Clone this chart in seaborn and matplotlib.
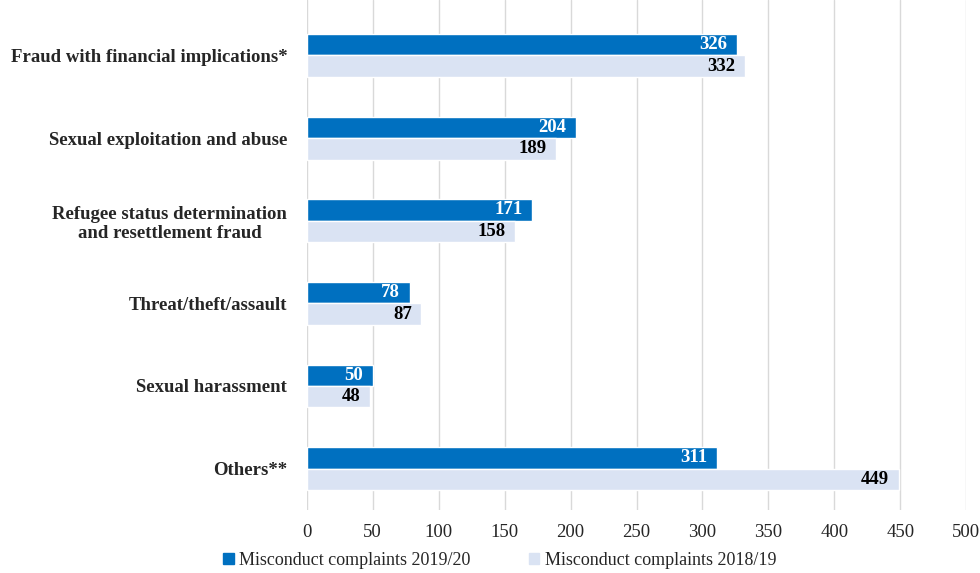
import pandas as pd
import seaborn as sns
import matplotlib.pyplot as plt

# Data
categories = [
    "Fraud with financial implications*",
    "Sexual exploitation and abuse",
    "Refugee status determination\nand resettlement fraud",
    "Threat/theft/assault",
    "Sexual harassment",
    "Others**",
]
complaints_2019_20 = [326, 204, 171, 78, 50, 311]
complaints_2018_19 = [332, 189, 158, 87, 48, 449]
series_names = ["Misconduct complaints 2019/20", "Misconduct complaints 2018/19"]
x_ticks = [0, 50, 100, 150, 200, 250, 300, 350, 400, 450, 500]

colors = ["#0070C0", "#DAE3F3"]
label_colors = ["white", "black"]

df = pd.DataFrame({
    "Category": categories * 2,
    "Count": complaints_2019_20 + complaints_2018_19,
    "Series": [series_names[0]] * len(categories) + [series_names[1]] * len(categories),
})

sns.set_style("white")
plt.rcParams["font.family"] = ["Liberation Serif", "DejaVu Serif"]

fig, ax = plt.subplots(figsize=(9.8, 5.73), dpi=100)
fig.subplots_adjust(left=0.313, right=0.986, top=1.0, bottom=0.11)

sns.barplot(data=df, y="Category", x="Count", hue="Series", orient="h",
            palette=colors, saturation=1, width=0.52, gap=0, ax=ax, legend=False)

for container, tc in zip(ax.containers, label_colors):
    texts = ax.bar_label(container, padding=-7, color=tc, fontsize=13.5,
                         fontweight="bold",
                         labels=[f"{int(v)}" for v in container.datavalues])
    for t in texts:
        t.set_ha("right")

ax.set_xlim(0, 500)
ax.set_ylim(5.5, -0.67)
ax.set_xticks(x_ticks)
ax.grid(axis="x", color="#D9D9D9", linewidth=1)
ax.set_axisbelow(True)
for s in ax.spines.values():
    s.set_visible(False)
ax.set_xlabel("")
ax.set_ylabel("")
ax.tick_params(axis="y", length=0, pad=14, labelsize=13.5)
ax.tick_params(axis="x", length=0, pad=10, labelsize=13.5)
for lbl in ax.get_yticklabels():
    lbl.set_fontweight("bold")
    lbl.set_multialignment("center")

handles = [plt.Rectangle((0, 0), 1, 1, color=c) for c in colors]
fig.legend(handles, series_names, loc="center", bbox_to_anchor=(0.51, 0.022),
           ncol=2, frameon=False, fontsize=13, handlelength=0.6, handleheight=0.6,
           handletextpad=0.3, columnspacing=3.2)

plt.savefig("out.png", dpi=100)
